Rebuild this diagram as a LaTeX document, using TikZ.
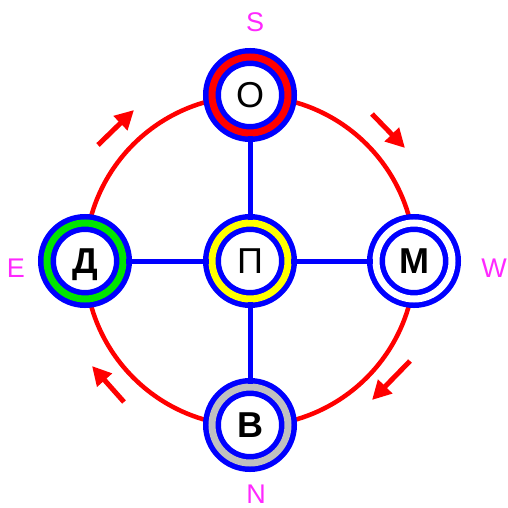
\documentclass[tikz,border=0pt]{standalone}
\usepackage{fontspec}
\setmainfont{Liberation Sans}
\usetikzlibrary{arrows.meta,backgrounds}
\definecolor{cblue}{RGB}{0,0,255}
\definecolor{cred}{RGB}{255,0,0}
\definecolor{cgreen}{RGB}{0,230,0}
\definecolor{cyellow}{RGB}{255,255,0}
\definecolor{cgray}{RGB}{192,192,192}
\definecolor{cmag}{RGB}{255,40,255}
\tikzset{
  ringnode/.style={circle, draw=cblue, line width=5.5pt, double=#1, double distance=7pt,
    fill=white, minimum size=76pt, inner sep=0pt, font=\fontsize{36}{36}\selectfont,
    text height=25.5pt, text depth=0pt},
  spoke/.style={draw=cblue, line width=5pt},
  orbit/.style={draw=cred, line width=4.5pt},
  dirarrow/.style={draw=cred, line width=5pt, -{Triangle[length=19pt,width=19pt]}},
  compass/.style={text=cmag, font=\fontsize{27}{27}\selectfont, inner sep=0pt,
    text height=19.5pt, text depth=0pt}
}
\begin{document}
\begin{tikzpicture}[x=1pt,y=-1pt]
\useasboundingbox (0,0) rectangle (507,508);
\node[ringnode=cred] (O) at (250,95) {О};
\node[ringnode=cgreen] (D) at (85,261) {\bfseries Д};
\node[ringnode=cyellow] (P) at (250,261) {П};
\node[ringnode=white] (M) at (414,261) {\bfseries М};
\node[ringnode=cgray] (B) at (250,425) {\bfseries В};
\begin{scope}[on background layer]
  \draw[orbit] (P.center) circle[radius=165];
\end{scope}
\draw[spoke] (P) -- (O);
\draw[spoke] (P) -- (D);
\draw[spoke] (P) -- (M);
\draw[spoke] (P) -- (B);
\coordinate (a1s) at (98,145);  \coordinate (a1e) at (134,110);
\coordinate (a2s) at (372,114); \coordinate (a2e) at (405,148);
\coordinate (a3s) at (410,361); \coordinate (a3e) at (372,400);
\coordinate (a4s) at (124,402); \coordinate (a4e) at (92,366);
\draw[dirarrow] (a1s) -- (a1e);
\draw[dirarrow] (a2s) -- (a2e);
\draw[dirarrow] (a3s) -- (a3e);
\draw[dirarrow] (a4s) -- (a4e);
\node[compass] (S) at (255,22) {S};
\node[compass] (E) at (16,268) {E};
\node[compass] (W) at (494,268) {W};
\node[compass] (N) at (256,494) {N};
\end{tikzpicture}
\end{document}
